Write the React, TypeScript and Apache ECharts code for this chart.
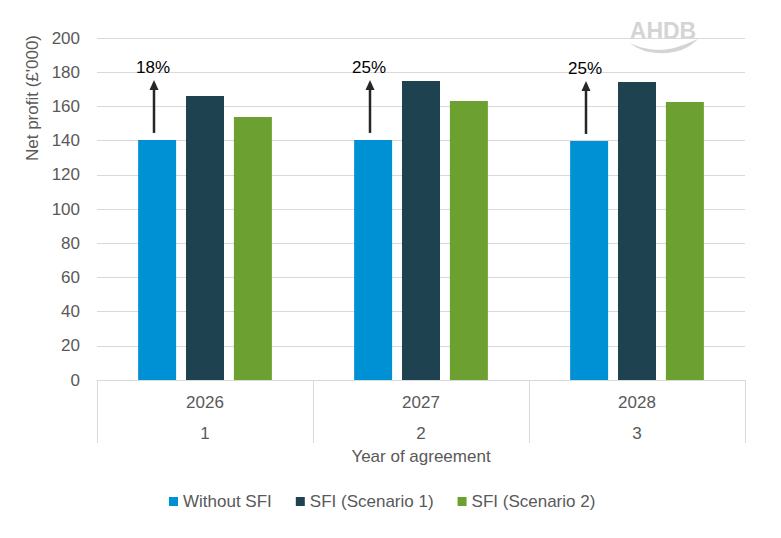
import React, { useEffect, useRef } from "react";
import * as echarts from "echarts";

// Net profit (£'000) by year of the agreement
const years = ["2026", "2027", "2028"];
const agreementYears = ["1", "2", "3"];
const withoutSfi = [140.4, 140.4, 139.8];
const sfiScenario1 = [166.1, 174.9, 174.3];
const sfiScenario2 = [153.8, 163.2, 162.6];
const yTicks = { min: 0, max: 200, interval: 20 };

const seriesNames = ["Without SFI", "SFI (Scenario 1)", "SFI (Scenario 2)"];
const colors = ["#0091D5", "#1F4250", "#6CA131"];

const FONT = "Liberation Sans, Arial, sans-serif";
const FS = 17;
const GREY = "#595959";
const LINE = "#D9D9D9";

// wave under the logo lettering
const SWOOSH =
  "M0,3 C10,10 30,13 45,9 C55,6 62,3 69,0 C63,6 56,11 45,13 C30,16 12,14 0,3 Z";

export default function App() {
  const ref = useRef<HTMLDivElement>(null);

  useEffect(() => {
    if (!ref.current) return;
    echarts.graphic.registerShape("swoosh", echarts.graphic.extendPath(SWOOSH, {}) as any);
    const chart = echarts.init(ref.current, null, { renderer: "svg" });

    // uplift of Scenario 1 over the baseline, one per year
    const uplift = years.map((_, i) => [i, withoutSfi[i], sfiScenario1[i]]);

    const barW = 38;
    const barGapPx = 10;

    chart.setOption({
      animation: false,
      textStyle: { fontFamily: FONT },
      grid: { left: 97, right: 36, top: 38, bottom: 158 },
      legend: {
        data: seriesNames,
        left: 164,
        top: 488,
        icon: "rect",
        itemWidth: 9,
        itemHeight: 9,
        itemGap: 24,
        textStyle: { fontSize: FS, color: GREY, fontFamily: FONT },
      },
      xAxis: [
        {
          type: "category",
          data: years,
          position: "bottom",
          axisLine: { show: true, lineStyle: { color: LINE, width: 1 } },
          axisTick: { show: true, length: 63, interval: 0, lineStyle: { color: LINE } },
          axisLabel: { fontSize: FS, color: GREY, margin: 14, fontFamily: FONT },
        },
        {
          type: "category",
          data: agreementYears,
          position: "bottom",
          axisLine: { show: false },
          axisTick: { show: false },
          axisLabel: { fontSize: FS, color: GREY, margin: 45, fontFamily: FONT },
          name: "Year of agreement",
          nameLocation: "middle",
          nameGap: 68,
          nameTextStyle: { fontSize: FS, color: GREY, fontFamily: FONT },
        },
      ],
      yAxis: {
        type: "value",
        min: yTicks.min,
        max: yTicks.max,
        interval: yTicks.interval,
        axisLine: { show: false },
        axisTick: { show: false },
        axisLabel: { fontSize: FS, color: GREY, margin: 17, fontFamily: FONT },
        splitLine: { lineStyle: { color: LINE, width: 1 } },
      },
      series: [
        {
          name: seriesNames[0],
          type: "bar",
          data: withoutSfi,
          barWidth: barW,
          barGap: "26%",
          itemStyle: { color: colors[0] },
        },
        {
          name: seriesNames[1],
          type: "bar",
          data: sfiScenario1,
          barWidth: barW,
          barGap: "26%",
          itemStyle: { color: colors[1] },
        },
        {
          name: seriesNames[2],
          type: "bar",
          data: sfiScenario2,
          barWidth: barW,
          barGap: "26%",
          itemStyle: { color: colors[2] },
        },
        {
          type: "custom",
          name: "uplift",
          data: uplift,
          z: 10,
          renderItem: (params: any, api: any) => {
            const idx = api.value(0);
            const base = api.coord([idx, api.value(1)]);
            const pct = Math.round((api.value(2) / api.value(1) - 1) * 100);
            const x = base[0] - (barW + barGapPx) - 3;
            const bottom = base[1] - 7;
            const top = bottom - 53;
            return {
              type: "group",
              children: [
                {
                  type: "line",
                  shape: { x1: x, y1: bottom, x2: x, y2: top + 8 },
                  style: { stroke: "#262626", lineWidth: 2.5 },
                },
                {
                  type: "polygon",
                  shape: { points: [[x - 4.5, top + 10], [x + 4.5, top + 10], [x, top]] },
                  style: { fill: "#262626" },
                },
                {
                  type: "text",
                  x: x - 1,
                  y: top - 12,
                  style: {
                    text: pct + "%",
                    fontSize: FS,
                    fontFamily: FONT,
                    fill: "#000000",
                    align: "center",
                    verticalAlign: "middle",
                  },
                },
              ],
            };
          },
        },
      ],
      graphic: [
        {
          type: "text",
          x: 32,
          y: 98,
          rotation: Math.PI / 2,
          style: {
            text: "Net profit (£'000)",
            fontSize: FS,
            fontFamily: FONT,
            fill: GREY,
            align: "center",
            verticalAlign: "middle",
          },
        },
        {
          type: "text",
          x: 663,
          y: 31,
          style: {
            text: "AHDB",
            fontSize: 23,
            fontWeight: "bold",
            fontFamily: FONT,
            fill: "#D4D4D4",
            align: "center",
            verticalAlign: "middle",
          },
        },
        {
          type: "swoosh",
          x: 629,
          y: 39,
          style: { fill: "#D4D4D4" },
        },
      ],
    });

    return () => chart.dispose();
  }, []);

  return <div ref={ref} style={{ width: 781, height: 538, position: "absolute", left: 0, top: 0 }} />;
}
